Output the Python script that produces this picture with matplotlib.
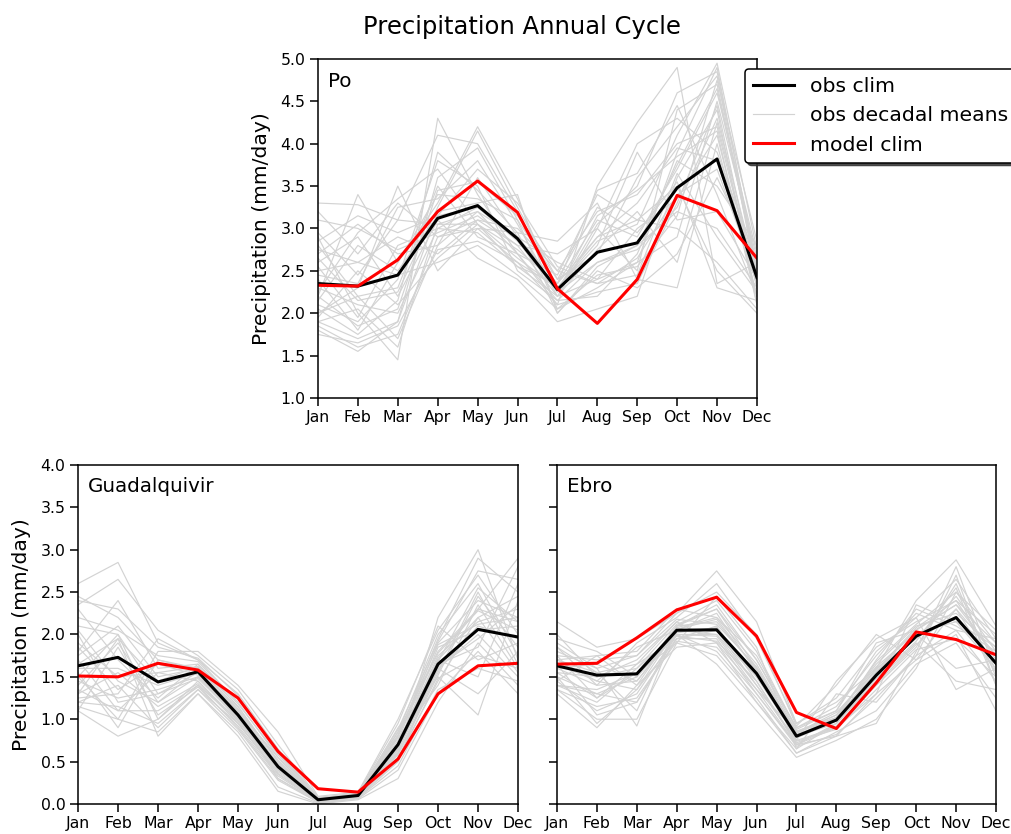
import numpy as np
import matplotlib
matplotlib.use('Agg')
import matplotlib.pyplot as plt

months = ['Jan', 'Feb', 'Mar', 'Apr', 'May', 'Jun', 'Jul', 'Aug', 'Sep', 'Oct', 'Nov', 'Dec']

# Po
po_obs = [2.35, 2.32, 2.45, 3.12, 3.27, 2.88, 2.28, 2.72, 2.83, 3.48, 3.82, 2.42]
po_model = [2.33, 2.32, 2.63, 3.20, 3.56, 3.19, 2.29, 1.88, 2.40, 3.39, 3.21, 2.65]
po_decadal = [
    [3.30, 3.28, 3.10, 3.05, 3.20, 2.90, 2.35, 3.10, 2.90, 3.70, 4.60, 2.70],
    [1.85, 1.60, 1.75, 2.90, 3.10, 2.80, 2.20, 2.40, 2.60, 3.90, 4.90, 2.50],
    [2.20, 3.40, 2.60, 3.30, 4.20, 3.35, 2.25, 2.60, 2.80, 3.20, 3.00, 2.30],
    [2.90, 2.00, 1.45, 4.30, 3.40, 2.70, 2.10, 3.50, 4.25, 4.90, 2.35, 2.60],
    [2.00, 2.30, 3.50, 2.50, 3.00, 2.95, 2.85, 3.30, 2.40, 2.30, 4.00, 2.20],
    [2.60, 2.90, 2.20, 3.10, 2.65, 2.40, 1.90, 2.05, 2.20, 3.60, 4.40, 2.10],
    [1.90, 1.70, 1.90, 3.60, 3.95, 3.10, 2.40, 2.70, 3.60, 4.20, 4.80, 2.40],
    [3.20, 2.70, 3.30, 2.90, 3.00, 2.60, 2.30, 2.90, 3.10, 3.00, 2.60, 2.05],
    [2.10, 1.90, 2.40, 3.80, 3.50, 2.50, 2.15, 2.20, 2.70, 3.80, 3.50, 2.80],
    [2.50, 2.60, 2.90, 2.70, 3.10, 3.00, 2.50, 3.20, 3.40, 4.00, 4.20, 2.30],
    [1.80, 1.55, 1.90, 3.20, 3.30, 3.40, 2.00, 2.50, 2.30, 2.70, 3.60, 2.60],
    [2.70, 3.05, 2.70, 2.80, 3.60, 2.90, 2.60, 2.40, 3.00, 3.35, 4.10, 2.20],
    [2.30, 2.10, 2.00, 3.00, 2.95, 2.55, 2.20, 3.00, 2.50, 4.40, 4.70, 2.50],
    [2.95, 2.45, 3.10, 4.10, 4.00, 3.20, 2.30, 2.80, 3.90, 3.10, 3.20, 2.40],
    [2.00, 2.20, 1.70, 2.80, 3.20, 2.70, 2.45, 3.40, 3.10, 3.50, 2.50, 2.00],
    [2.40, 1.80, 2.60, 3.40, 3.35, 3.10, 2.05, 2.30, 2.60, 2.90, 4.50, 2.65],
    [1.95, 2.50, 2.10, 2.65, 3.05, 2.75, 2.35, 2.90, 3.30, 3.95, 3.80, 2.35],
    [2.80, 2.20, 2.30, 3.50, 2.90, 2.70, 2.15, 2.60, 2.75, 3.25, 4.30, 2.45],
    [2.15, 2.80, 2.50, 3.15, 3.70, 3.30, 2.55, 2.35, 2.45, 3.65, 2.90, 2.25],
    [2.55, 1.95, 2.80, 3.00, 3.25, 2.85, 2.25, 3.05, 3.50, 4.60, 4.85, 2.55],
    [2.25, 2.95, 3.35, 3.70, 3.05, 2.65, 2.30, 2.85, 3.05, 4.10, 4.95, 2.75],
    [1.75, 1.65, 1.85, 2.75, 2.85, 2.60, 2.10, 2.25, 2.35, 3.30, 4.45, 2.30],
    [2.65, 2.15, 2.25, 3.25, 4.15, 3.25, 2.40, 3.25, 2.95, 3.55, 2.30, 2.15],
    [3.10, 3.00, 2.75, 2.95, 3.15, 2.80, 2.70, 3.00, 4.00, 4.30, 3.90, 2.60],
    [2.05, 1.75, 2.15, 3.90, 3.45, 2.95, 2.00, 2.55, 2.80, 3.75, 4.65, 2.50],
    [2.45, 2.35, 3.25, 3.35, 3.80, 3.05, 2.20, 2.75, 3.20, 2.60, 4.25, 2.35],
    [1.90, 2.05, 1.60, 3.05, 3.05, 2.55, 2.35, 3.45, 3.65, 4.45, 3.40, 2.20],
    [2.75, 2.60, 2.45, 2.60, 2.80, 2.45, 2.05, 2.45, 2.55, 3.15, 4.75, 2.85],
    [2.20, 1.85, 2.05, 3.45, 3.55, 3.15, 2.50, 2.35, 2.65, 3.40, 3.70, 2.40],
    [2.85, 3.15, 2.95, 3.15, 3.25, 2.90, 2.25, 3.15, 3.45, 3.85, 4.15, 2.10],
]

# Guadalquivir
gu_obs = [1.63, 1.73, 1.44, 1.56, 1.05, 0.44, 0.05, 0.10, 0.70, 1.65, 2.06, 1.97]
gu_model = [1.51, 1.50, 1.66, 1.58, 1.25, 0.62, 0.18, 0.14, 0.53, 1.30, 1.63, 1.66]
gu_decadal = [
    [2.60, 2.85, 1.90, 1.70, 1.20, 0.55, 0.06, 0.12, 0.85, 1.80, 2.30, 2.90],
    [1.10, 0.80, 1.00, 1.40, 0.90, 0.30, 0.02, 0.08, 0.60, 2.20, 3.00, 1.70],
    [2.35, 2.65, 2.05, 1.75, 1.35, 0.70, 0.08, 0.10, 0.90, 1.50, 1.05, 2.40],
    [1.30, 1.95, 0.80, 1.30, 0.85, 0.20, 0.01, 0.06, 0.40, 1.30, 1.80, 1.30],
    [1.50, 1.00, 1.80, 1.80, 1.40, 0.85, 0.09, 0.14, 1.00, 2.05, 2.70, 2.00],
    [2.00, 1.20, 1.30, 1.55, 1.10, 0.45, 0.04, 0.10, 0.70, 1.70, 1.50, 2.60],
    [1.20, 1.40, 0.90, 1.35, 0.95, 0.35, 0.03, 0.09, 0.55, 1.45, 2.20, 1.55],
    [1.80, 2.40, 1.60, 1.65, 1.15, 0.50, 0.05, 0.11, 0.75, 1.90, 2.40, 2.20],
    [1.40, 1.90, 1.20, 1.50, 1.00, 0.40, 0.06, 0.09, 0.65, 1.60, 1.30, 1.80],
    [2.45, 2.20, 1.70, 1.60, 1.25, 0.60, 0.07, 0.12, 0.80, 1.95, 2.90, 2.50],
    [1.15, 1.00, 0.85, 1.30, 0.80, 0.15, 0.00, 0.05, 0.30, 1.20, 1.90, 1.40],
    [1.60, 1.60, 1.40, 1.55, 1.05, 0.42, 0.05, 0.10, 0.72, 1.75, 2.15, 2.30],
    [2.10, 2.00, 1.00, 1.45, 0.95, 0.38, 0.04, 0.08, 0.60, 1.55, 2.50, 1.65],
    [1.25, 1.30, 1.95, 1.70, 1.30, 0.65, 0.07, 0.13, 0.95, 2.10, 1.70, 1.90],
    [1.35, 1.10, 1.10, 1.40, 1.00, 0.48, 0.06, 0.11, 0.68, 1.85, 2.05, 2.10],
    [1.75, 2.10, 1.50, 1.60, 1.10, 0.55, 0.05, 0.10, 0.78, 1.40, 2.35, 1.60],
    [1.45, 1.25, 1.35, 1.50, 1.05, 0.30, 0.03, 0.07, 0.50, 1.65, 1.85, 2.80],
    [2.30, 1.70, 1.25, 1.65, 1.15, 0.50, 0.06, 0.12, 0.85, 2.00, 2.60, 1.75],
    [1.90, 1.50, 1.55, 1.45, 0.98, 0.40, 0.05, 0.09, 0.62, 1.70, 2.20, 2.45],
    [1.55, 0.90, 1.70, 1.58, 1.08, 0.45, 0.04, 0.10, 0.70, 1.60, 2.00, 1.50],
    [2.40, 2.30, 1.85, 1.72, 1.28, 0.62, 0.07, 0.13, 0.88, 1.92, 2.75, 2.65],
    [1.20, 1.15, 0.95, 1.35, 0.88, 0.28, 0.02, 0.07, 0.45, 1.35, 1.60, 1.45],
    [1.65, 1.95, 1.45, 1.62, 1.12, 0.52, 0.06, 0.11, 0.80, 1.78, 2.28, 2.05],
    [1.85, 1.35, 1.65, 1.52, 1.02, 0.43, 0.05, 0.09, 0.66, 1.62, 1.95, 2.35],
    [1.30, 1.55, 1.15, 1.42, 0.96, 0.36, 0.04, 0.08, 0.58, 1.52, 2.45, 1.85],
    [2.20, 2.05, 1.75, 1.68, 1.18, 0.58, 0.06, 0.12, 0.82, 1.88, 2.12, 2.20],
    [1.10, 1.85, 1.05, 1.38, 0.92, 0.33, 0.03, 0.08, 0.52, 1.48, 1.75, 1.60],
    [1.70, 1.10, 1.55, 1.62, 1.12, 0.47, 0.05, 0.10, 0.72, 1.68, 2.55, 2.15],
    [1.50, 2.00, 1.30, 1.48, 1.02, 0.41, 0.05, 0.09, 0.64, 1.58, 2.10, 1.95],
    [2.05, 1.45, 1.20, 1.58, 1.06, 0.46, 0.05, 0.10, 0.69, 1.72, 2.30, 2.15],
]

# Ebro
eb_obs = [1.63, 1.52, 1.535, 2.05, 2.055, 1.54, 0.80, 0.99, 1.52, 1.98, 2.20, 1.66]
eb_model = [1.65, 1.66, 1.96, 2.29, 2.44, 1.98, 1.08, 0.89, 1.43, 2.03, 1.94, 1.76]
eb_decadal = [
    [2.15, 1.85, 1.95, 2.25, 2.75, 2.15, 0.95, 1.20, 1.60, 2.40, 2.88, 2.10],
    [1.30, 0.90, 1.40, 1.85, 1.90, 1.20, 0.60, 0.80, 1.30, 1.70, 2.00, 1.10],
    [1.80, 1.60, 0.92, 2.10, 2.30, 1.60, 0.75, 1.45, 1.95, 2.20, 1.35, 1.60],
    [1.40, 1.20, 1.60, 2.00, 1.65, 1.10, 0.55, 0.75, 1.00, 1.60, 2.50, 2.05],
    [1.70, 1.75, 1.80, 2.30, 2.20, 1.75, 0.90, 1.10, 1.90, 2.05, 2.35, 1.90],
    [1.50, 1.30, 1.20, 1.95, 2.10, 1.45, 0.70, 0.90, 1.40, 1.85, 2.60, 1.50],
    [2.00, 1.50, 1.70, 2.15, 1.90, 1.35, 0.85, 1.00, 1.70, 2.30, 2.10, 1.80],
    [1.35, 1.00, 1.00, 1.90, 2.45, 1.85, 0.65, 1.30, 1.20, 1.75, 2.70, 1.40],
    [1.60, 1.65, 1.45, 2.05, 2.00, 1.50, 0.80, 0.95, 1.55, 2.00, 1.60, 1.70],
    [1.85, 1.40, 1.90, 2.20, 2.60, 1.95, 0.95, 1.25, 1.85, 2.15, 2.40, 2.00],
    [1.45, 1.10, 1.30, 2.00, 1.80, 1.25, 0.60, 0.85, 1.10, 1.65, 1.90, 1.25],
    [1.95, 1.80, 1.50, 2.10, 2.15, 1.60, 0.85, 1.05, 1.65, 2.10, 2.25, 1.85],
    [1.55, 1.25, 1.65, 1.95, 1.95, 1.30, 0.70, 0.80, 0.95, 1.80, 2.80, 1.55],
    [1.70, 1.55, 1.10, 2.10, 2.35, 1.70, 0.90, 1.15, 1.75, 2.25, 2.05, 1.95],
    [1.40, 1.35, 1.55, 1.90, 1.75, 1.20, 0.65, 0.95, 1.45, 1.90, 1.45, 1.35],
    [1.75, 1.70, 1.75, 2.25, 2.50, 2.00, 0.92, 1.40, 2.00, 1.70, 2.30, 1.75],
    [1.50, 0.95, 1.35, 1.95, 2.05, 1.40, 0.75, 0.90, 1.30, 2.35, 2.15, 1.60],
    [1.65, 1.45, 1.85, 2.05, 2.25, 1.55, 0.82, 1.00, 1.60, 1.95, 2.45, 1.80],
    [1.85, 1.55, 1.65, 2.15, 2.40, 1.80, 0.88, 1.10, 1.80, 2.20, 2.65, 1.95],
    [1.35, 1.15, 1.25, 1.92, 1.85, 1.30, 0.68, 0.82, 1.25, 1.75, 2.05, 1.45],
    [1.60, 1.40, 1.45, 2.02, 2.08, 1.50, 0.78, 0.98, 1.50, 1.98, 2.20, 1.65],
    [1.45, 1.75, 1.40, 2.08, 2.20, 1.65, 0.84, 1.08, 1.58, 2.08, 2.40, 1.70],
    [1.75, 1.25, 1.55, 1.98, 1.92, 1.45, 0.72, 0.92, 1.42, 1.88, 2.30, 1.55],
    [1.55, 1.50, 1.60, 2.12, 2.30, 1.70, 0.86, 1.02, 1.68, 2.12, 2.50, 1.90],
    [1.65, 1.05, 1.20, 2.00, 2.00, 1.40, 0.74, 0.88, 1.35, 1.82, 1.95, 1.50],
    [1.90, 1.60, 1.75, 2.18, 2.12, 1.62, 0.83, 1.05, 1.62, 2.02, 2.15, 1.85],
    [1.40, 1.30, 1.50, 2.00, 1.98, 1.35, 0.70, 0.95, 1.48, 1.92, 2.55, 1.40],
    [1.70, 1.45, 1.35, 2.06, 2.18, 1.58, 0.80, 1.02, 1.56, 2.06, 2.35, 1.75],
]

plt.rcParams['axes.linewidth'] = 1.1
plt.rcParams['xtick.major.size'] = 5.5
plt.rcParams['ytick.major.size'] = 5.5
plt.rcParams['xtick.major.width'] = 1.1
plt.rcParams['ytick.major.width'] = 1.1

fig = plt.figure(figsize=(10.12, 8.34), dpi=100)
ax_po = fig.add_axes([0.3142, 0.5228, 0.4338, 0.4065])
ax_gu = fig.add_axes([0.0771, 0.036, 0.4348, 0.4065])
ax_eb = fig.add_axes([0.5504, 0.036, 0.4338, 0.4065])

x = np.arange(12)


def draw(ax, obs, model, decadal, name, ylim, yticks):
    for i, row in enumerate(decadal):
        ax.plot(x, row, color='lightgray', lw=0.85,
                label='obs decadal means' if i == 0 else None)
    ax.plot(x, obs, color='black', lw=2.2, label='obs clim')
    ax.plot(x, model, color='red', lw=2.2, label='model clim')
    ax.set_xlim(0, 11)
    ax.set_ylim(*ylim)
    ax.set_xticks(x)
    ax.set_xticklabels(months, fontsize=11.3)
    ax.set_yticks(yticks)
    ax.set_yticklabels(['%.1f' % v for v in yticks], fontsize=11.3)
    ax.text(0.023, 0.935, name, transform=ax.transAxes, fontsize=14.3,
            va='center', ha='left')


draw(ax_po, po_obs, po_model, po_decadal, 'Po', (1.0, 5.0), np.arange(1.0, 5.01, 0.5))
draw(ax_gu, gu_obs, gu_model, gu_decadal, 'Guadalquivir', (0.0, 4.0), np.arange(0.0, 4.01, 0.5))
draw(ax_eb, eb_obs, eb_model, eb_decadal, 'Ebro', (0.0, 4.0), np.arange(0.0, 4.01, 0.5))
ax_eb.set_yticklabels([])

ax_po.set_ylabel('Precipitation (mm/day)', fontsize=14.6, labelpad=7)
ax_gu.set_ylabel('Precipitation (mm/day)', fontsize=14.6, labelpad=7)

h, l = ax_po.get_legend_handles_labels()
order = [l.index('obs clim'), l.index('obs decadal means'), l.index('model clim')]
leg = ax_po.legend([h[i] for i in order], [l[i] for i in order],
                   loc='upper left', bbox_to_anchor=(0.9727, 0.9705),
                   borderaxespad=0, fontsize=14.7, framealpha=1, edgecolor='black',
                   shadow={'color': '0.2', 'alpha': 0.85})
leg.get_frame().set_linewidth(1.1)

fig.suptitle('Precipitation Annual Cycle', fontsize=17.5, x=0.516, y=0.982)

fig.savefig('out.png', dpi=100)
